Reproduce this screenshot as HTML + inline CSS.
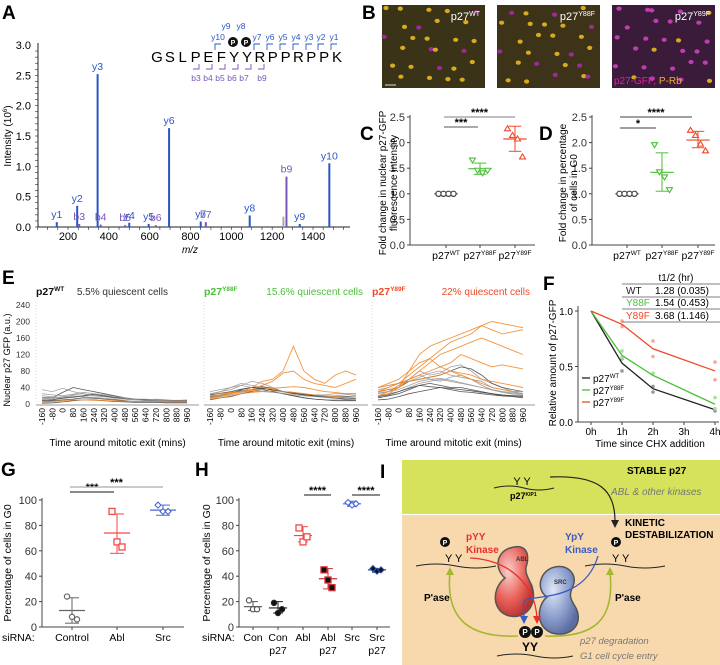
<!DOCTYPE html>
<html><head><meta charset="utf-8"><style>
html,body{margin:0;padding:0;background:#fff;}
svg{display:block;font-family:"Liberation Sans",Arial,sans-serif;}
</style></head><body>
<svg id="fig" width="720" height="665" viewBox="0 0 720 665" xmlns="http://www.w3.org/2000/svg">
<defs>
<radialGradient id="gAbl" cx="35%" cy="35%" r="70%"><stop offset="0" stop-color="#fbd0cc"/><stop offset="0.6" stop-color="#e8625a"/><stop offset="1" stop-color="#b83030"/></radialGradient>
<radialGradient id="gSrc" cx="35%" cy="35%" r="70%"><stop offset="0" stop-color="#dfe6f5"/><stop offset="0.6" stop-color="#8a9dcc"/><stop offset="1" stop-color="#5a6ca0"/></radialGradient>
</defs>
<g id="panelA"></g>
<g id="panelB"></g>
<g id="panelC"></g>
<g id="panelD"></g>
<g id="panelE"></g>
<g id="panelF"></g>
<g id="panelG"></g>
<g id="panelH"></g>
<g id="panelI">
 <rect x="402" y="460" width="318" height="54" fill="#d6e25c"/>
 <rect x="402" y="515" width="318" height="150" fill="#f8d9ad"/>
 <text x="380" y="478" font-size="19" font-weight="bold">I</text>
 <text x="627" y="474" font-size="10" font-weight="bold">STABLE p27</text>
 <text x="611" y="495" font-size="10" font-style="italic" fill="#777">ABL &amp; other kinases</text>
 <path d="M494,488 q15,-4 30,0 q15,4 30,0" fill="none" stroke="#222"/>
 <text x="522" y="485" font-size="11" text-anchor="middle">Y Y</text>
 <text x="510" y="499" font-size="9" font-weight="bold">p27<tspan font-size="5" dy="-3">KIP1</tspan></text>
 <path d="M550,477 C600,475 615,490 615,522" fill="none" stroke="#222" stroke-width="1.2"/>
 <path d="M611,520 l4,8 l4,-8z" fill="#222"/>
 <text x="625" y="526" font-size="10" font-weight="bold">KINETIC</text>
 <text x="625" y="538" font-size="10" font-weight="bold">DESTABILIZATION</text>
 <path d="M416,566 q20,-4 40,0 q20,4 40,0" fill="none" stroke="#222"/>
 <text x="445" y="562" font-size="11">Y Y</text>
 <circle cx="445" cy="542" r="5" fill="#111"/><text x="445" y="545" font-size="7" fill="#fff" text-anchor="middle" font-weight="bold">P</text>
 <path d="M585,566 q20,-4 40,0 q20,4 40,0" fill="none" stroke="#222"/>
 <text x="612" y="562" font-size="11">Y Y</text>
 <circle cx="616" cy="542" r="5" fill="#111"/><text x="616" y="545" font-size="7" fill="#fff" text-anchor="middle" font-weight="bold">P</text>
 <text x="466" y="540" font-size="10" font-weight="bold" fill="#e8302a">pYY</text>
 <text x="466" y="553" font-size="10" font-weight="bold" fill="#e8302a">Kinase</text>
 <text x="565" y="540" font-size="10" font-weight="bold" fill="#3a5bc0">YpY</text>
 <text x="565" y="553" font-size="10" font-weight="bold" fill="#3a5bc0">Kinase</text>
 <path d="M510,548 c-15,5 -15,22 -5,30 c-15,12 -12,35 5,38 c15,3 28,-10 22,-30 c-5,-10 -8,-15 -5,-22 c3,-15 -5,-20 -17,-16z" fill="url(#gAbl)" stroke="#555" stroke-width="1.5"/>
 <text x="516" y="561" font-size="6" font-weight="bold" fill="#333">ABL</text>
 <path d="M555,567 c-15,3 -20,22 -8,30 c-10,8 -12,30 5,36 c18,5 32,-8 24,-25 c-5,-8 -8,-12 -3,-22 c5,-12 -6,-22 -18,-19z" fill="url(#gSrc)" stroke="#555" stroke-width="1.5"/>
 <text x="554" y="584" font-size="6" font-weight="bold" fill="#333">SRC</text>
 <path d="M470,558 C510,560 535,585 537,618" fill="none" stroke="#e8302a" stroke-width="1.3"/>
 <path d="M533,616 l4,8 l4,-8z" fill="#e8302a"/>
 <path d="M598,556 C585,600 540,595 525,600 C522,605 524,612 524,618" fill="none" stroke="#3a5bc0" stroke-width="1.3"/>
 <path d="M520,616 l4,8 l4,-8z" fill="#3a5bc0"/>
 <path d="M518,636 C470,638 445,620 450,572" fill="none" stroke="#a5b832" stroke-width="1.6"/>
 <path d="M446,575 l4,-8 l4,8z" fill="#a5b832"/>
 <path d="M545,636 C595,638 615,620 610,572" fill="none" stroke="#a5b832" stroke-width="1.6"/>
 <path d="M606,575 l4,-8 l4,8z" fill="#a5b832"/>
 <text x="424" y="601" font-size="10" font-weight="bold">P'ase</text>
 <text x="615" y="601" font-size="10" font-weight="bold">P'ase</text>
 <circle cx="525" cy="632" r="6" fill="#111"/><text x="525" y="635" font-size="8" fill="#fff" text-anchor="middle" font-weight="bold">P</text>
 <circle cx="537" cy="632" r="6" fill="#111"/><text x="537" y="635" font-size="8" fill="#fff" text-anchor="middle" font-weight="bold">P</text>
 <text x="522" y="651" font-size="12" font-weight="bold">YY</text>
 <path d="M497,656 q20,-4 38,0 q20,4 38,0" fill="none" stroke="#222"/>
 <text x="580" y="644" font-size="9.5" font-style="italic" fill="#777">p27 degradation</text>
 <text x="580" y="659" font-size="9.5" font-style="italic" fill="#777">G1 cell cycle entry</text>
</g>
</svg>
<script>
// ===== Panel A data =====
const specMz = [145,245,255,345,360,480,500,595,630,695,850,875,1090,1255,1270,1335,1480];
const specInt = [0.08,0.35,0.05,2.52,0.04,0.03,0.07,0.05,0.03,1.63,0.09,0.08,0.19,0.17,0.83,0.05,1.05];
const specLab = ['y1','y2','b3','y3','b4','b5','y4','y5','b6','y6','y7','b7','y8','','b9','y9','y10'];
const specKind = ['y','y','b','y','b','b','y','y','b','y','y','b','y','g','b','y','y'];
const specXTicks = [200,400,600,800,1000,1200,1400];
const specYTicks = [0,0.5,1,1.5,2,2.5,3];
// ===== Panel C/D data =====
const cWT=[1,1,1,1], cY88=[1.65,1.45,1.4,1.45], cY89=[2.28,2.15,2.08,1.73];
const cMean=[1,1.49,2.07], cErrLo=[1,1.38,1.83], cErrHi=[1,1.6,2.32];
const dWT=[1,1,1,1], dY88=[1.95,1.42,1.32,1.07], dY89=[2.25,2.15,1.98,1.85];
const dMean=[1,1.42,2.05], dErrLo=[1,1.05,1.9], dErrHi=[1,1.8,2.22];
const cdTicks=[0,0.5,1,1.5,2,2.5];
// ===== Panel E data =====
const eTimes=[-160,-80,0,80,160,240,320,400,480,560,640,720,800,880,960];
const eTickLabels=[-160,-80,0,80,160,240,320,400,480,560,640,720,800,880,960];
const eYTicks=[0,40,80,120,160,200,240];
const eWTgray=[[35,30,38,30,25,20,18,15,12,10,10,8,8,8,10],[15,15,28,40,35,30,25,20,15,12,10,8,8,6,8],[10,12,15,22,25,20,18,15,12,10,8,8,6,6,6],[5,8,10,12,15,14,12,10,8,6,6,5,5,5,5],[20,18,15,18,20,22,20,15,12,10,10,12,10,8,8],[2,3,5,8,10,10,8,6,5,4,4,4,3,3,3],[12,14,18,20,18,16,14,12,12,10,9,9,8,7,7],[8,10,14,16,20,24,20,16,14,12,10,10,9,8,8],[25,22,20,24,28,25,22,18,15,12,12,10,9,9,9]];
const eWTorange=[[5,6,8,10,10,9,8,8,7,6,6,6,5,5,5]];
const e88gray=[[20,30,40,45,40,35,30,25,20,15,12,10,10,10,8],[15,20,25,35,40,42,38,30,25,22,20,18,15,15,12],[25,30,35,45,55,50,40,30,25,22,20,18,20,22,25],[10,15,18,25,30,35,30,25,20,15,12,10,8,8,8],[30,35,40,50,45,40,35,30,28,25,22,22,25,25,25],[18,22,28,32,35,38,34,30,28,24,20,16,14,12,12],[12,18,22,28,32,30,28,26,22,20,18,16,15,14,14],[22,26,30,36,40,38,34,30,26,22,20,20,18,18,20]];
const e88orange=[[15,20,25,30,40,55,60,80,140,80,60,50,70,80,70],[20,22,28,30,35,45,55,75,80,60,50,45,40,50,60],[25,25,28,30,32,35,38,40,42,40,35,30,28,25,25],[12,15,20,25,28,30,32,30,28,25,22,20,18,16,15]];
const e89gray=[[40,45,50,60,80,70,75,90,95,80,60,50,40,30,25],[30,35,40,55,60,65,70,80,90,85,70,50,40,35,30],[20,25,30,40,50,55,60,55,50,45,40,35,30,25,25],[15,20,25,35,45,50,45,40,40,35,30,25,20,20,18],[35,40,50,55,65,75,80,70,65,60,55,40,35,30,30],[10,12,18,25,30,35,40,35,30,28,25,22,20,18,15],[25,30,45,60,70,60,55,65,70,60,45,35,30,28,26],[18,22,30,38,45,42,40,38,35,32,28,25,22,20,20],[28,30,35,45,55,60,62,58,52,46,40,34,28,24,22]];
const e89orange=[[40,50,60,80,120,140,150,160,170,180,190,200,195,190,185],[30,40,50,70,90,110,130,150,160,170,190,180,170,175,180],[20,30,40,60,80,100,120,130,140,150,160,150,140,130,120],[30,35,40,60,70,80,90,100,120,110,100,90,95,90,85],[40,45,50,55,60,65,70,80,75,70,60,55,50,45,40],[20,25,40,80,100,110,90,80,70,60,50,40,35,30,30]];
// ===== Panel F data =====
const fHours=[0,1,2,4];
const fXTicks=['0h','1h','2h','3h','4h'];
const fWT=[1,0.53,0.30,0.11], fY88=[1,0.60,0.42,0.16], fY89=[1,0.88,0.66,0.46];
const fWTpts=[[1,0.46],[1,0.57],[2,0.27],[2,0.32],[4,0.10]];
const fY88pts=[[1,0.64],[1,0.58],[2,0.44],[4,0.22],[4,0.12]];
const fY89pts=[[1,0.91],[1,0.86],[2,0.73],[2,0.59],[4,0.54],[4,0.38]];
const fYTicks=[0,0.5,1.0];
// ===== Panel G/H data =====
const gCats=['Control','Abl','Src'];
const gVals=[[24,8,6],[91,67,63],[96,91,91]];
const gMean=[13,74,92], gLo=[3,58,88], gHi=[23,89,96];
const hCats=['Con','Con p27','Abl','Abl p27','Src','Src p27'];
const hVals=[[21,14,14],[19,11,14],[78,67,71],[45,37,31],[98,96,97],[46,44,45]];
const hMean=[16,15,72,38,97,45], hLo=[13,11,67,30,95,43], hHi=[20,20,79,46,99,46];
const ghTicks=[0,20,40,60,80,100];

const NS='http://www.w3.org/2000/svg';
function mk(parent,tag,attrs,txt){const e=document.createElementNS(NS,tag);for(const k in attrs)e.setAttribute(k,attrs[k]);if(txt!==undefined)e.textContent=txt;parent.appendChild(e);return e;}
function lin(d0,d1,r0,r1){return v=>r0+(v-d0)*(r1-r0)/(d1-d0);}

// ---------- Panel A ----------
(function(){
const g=document.getElementById('panelA');
const x=lin(200,1400,68,313), y=lin(0,3,227,45);
let t=mk(g,'text',{x:2,y:19,'font-size':19,'font-weight':'bold'},'A');

let ax=mk(g,'line',{x1:38,y1:227,x2:350,y2:227,stroke:'#222'});

let ay=mk(g,'line',{x1:38,y1:43,x2:38,y2:227,stroke:'#222'});

for(let v=0;v<=3;v+=0.1){mk(g,'line',{x1:35,x2:38,y1:y(v),y2:y(v),stroke:'#222','stroke-width':0.6});}
for(let v=50;v<=1550;v+=50){mk(g,'line',{x1:x(v),x2:x(v),y1:227,y2:230,stroke:'#222','stroke-width':0.6});}
specYTicks.forEach(v=>{const e=mk(g,'text',{x:31,y:y(v)+4,'font-size':11,'text-anchor':'end'},v.toFixed(1));});
specXTicks.forEach(v=>{const e=mk(g,'text',{x:x(v),y:240,'font-size':11,'text-anchor':'middle'},String(v));});
let mz=mk(g,'text',{x:190,y:253,'font-size':10,'font-style':'italic','text-anchor':'middle'},'m/z');

let yt=mk(g,'text',{x:11,y:136,'font-size':10,'text-anchor':'middle',transform:'rotate(-90 11 136)'});
yt.innerHTML='Intensity (10<tspan font-size="6" dy="-4">6</tspan><tspan dy="4">)</tspan>';

const col={y:'#2a56c6',b:'#7a55b8',g:'#aaa'};
specMz.forEach((m,i)=>{
 const b=mk(g,'line',{x1:x(m),x2:x(m),y1:227,y2:y(specInt[i]),stroke:col[specKind[i]],'stroke-width':2});
 
 if(specLab[i]){const l=mk(g,'text',{x:x(m),y:y(specInt[i])-4,'font-size':10.5,'text-anchor':'middle',fill:col[specKind[i]]},specLab[i]);
 }
});
const seq='GSLPEFYYRPPRPPK'.split('');
seq.forEach((c,i)=>{const e=mk(g,'text',{x:157+i*12.86,y:62,'font-size':15,'text-anchor':'middle'},c);});
const yl=['y10','y9','y8','y7','y6','y5','y4','y3','y2','y1'];
[215,0,0,254,267,280,293,306,318,331].forEach((xx,i)=>{ if(!xx)return;
 mk(g,'path',{d:`M${xx},50 v-6 h6`,fill:'none',stroke:'#2a56c6','stroke-width':0.9});
 const e=mk(g,'text',{x:xx+3,y:40,'font-size':8.5,fill:'#2a56c6','text-anchor':'middle'},yl[i]);});
mk(g,'text',{x:226,y:29,'font-size':8.5,fill:'#2a56c6','text-anchor':'middle'},'y9');
mk(g,'text',{x:241,y:29,'font-size':8.5,fill:'#2a56c6','text-anchor':'middle'},'y8');
[233,246].forEach(xx=>{mk(g,'circle',{cx:xx,cy:42,r:5,fill:'#111'});mk(g,'text',{x:xx,y:45,'font-size':7,fill:'#fff','text-anchor':'middle','font-weight':'bold'},'P');});
const bl=['b3','b4','b5','b6','b7','b9'];
[199,212,225,238,251,264].forEach((xx,i)=>{
 mk(g,'path',{d:`M${xx},64 v5 h-6`,fill:'none',stroke:'#7a55b8','stroke-width':0.9});
 const e=mk(g,'text',{x:196+i*12+(i==5?6:0),y:81,'font-size':8.5,fill:'#7a55b8','text-anchor':'middle'},bl[i]);});
})();

// ---------- Panel B ----------
(function(){
const g=document.getElementById('panelB');
let t=mk(g,'text',{x:362,y:19,'font-size':19,'font-weight':'bold'},'B');
const imgs=[{x:382,bg:'#3a3318',name:'image-wt',lab:'WT',yel:0.8},{x:497,bg:'#3d3318',name:'image-y88f',lab:'Y88F',yel:0.65},{x:612,bg:'#3a1c3a',name:'image-y89f',lab:'Y89F',yel:0.12}];
imgs.forEach((im,k)=>{
 const r=mk(g,'rect',{x:im.x,y:5,width:103,height:83,fill:im.bg});
 let n=0;
 for(let row=0;row<6;row++)for(let c=0;c<8;c++){
  n++;
  if(((n*13+k*5)%9)<4)continue;
  const jx=((n*37+k*11)%17)-8, jy=((n*53+k*7)%13)-6;
  const cx=im.x+7+c*12.5+jx*0.6, cy=11+row*13.5+jy*0.6;
  if(cx>im.x+101||cy>86)continue;
  const yel=((n*7+k*3)%20)/20<im.yel;
  mk(g,'ellipse',{cx:cx,cy:cy,rx:2.6,ry:2.1,fill:yel?'#e8b81e':(k==2?'#d040c0':'#a828a8'),opacity:0.9});}
 const l=mk(g,'text',{x:im.x+98,y:20,'font-size':11,fill:'#fff','text-anchor':'end'});
 l.innerHTML='p27<tspan font-size="7" dy="-4">'+im.lab+'</tspan>';
});
mk(g,'line',{x1:385,x2:396,y1:85,y2:85,stroke:'#ddd','stroke-width':1});
const lg=mk(g,'text',{x:614,y:84,'font-size':10});lg.innerHTML='<tspan fill="#e020a0">p27-GFP,</tspan><tspan fill="#f0b030"> P-Rb</tspan>';

})();

// ---------- scatter helper ----------
function scatterPanel(g,cfg){
 const y=lin(cfg.d0,cfg.d1,cfg.py0,cfg.py1);
 let ay=mk(g,'line',{x1:cfg.ax,x2:cfg.ax,y1:cfg.py1-2,y2:cfg.py0,stroke:'#444'});
 let ax=mk(g,'line',{x1:cfg.ax,x2:cfg.axEnd,y1:cfg.py0,y2:cfg.py0,stroke:'#444'});
 cfg.ticks.forEach(v=>{mk(g,'line',{x1:cfg.ax-3,x2:cfg.ax,y1:y(v),y2:y(v),stroke:'#444'});
  const e=mk(g,'text',{x:cfg.ax-5,y:y(v)+4,'font-size':11,'text-anchor':'end',fill:'#333'},cfg.fmt(v));});
 cfg.cx.forEach(c=>mk(g,'line',{x1:c,x2:c,y1:cfg.py0,y2:cfg.py0+3,stroke:'#444'}));
 cfg.vals.forEach((arr,i)=>{
  const c=cfg.cx[i], col=cfg.colors[i];
  const hw=cfg.hw||9;
  const m=mk(g,'line',{x1:c-hw*1.3,x2:c+hw*1.3,y1:y(cfg.mean[i]),y2:y(cfg.mean[i]),stroke:col,'stroke-width':1.2});
  if(cfg.hi[i]!==cfg.lo[i]){
   const eb=mk(g,'line',{x1:c,x2:c,y1:y(cfg.lo[i]),y2:y(cfg.hi[i]),stroke:col,'stroke-width':1});
   mk(g,'line',{x1:c-hw*0.7,x2:c+hw*0.7,y1:y(cfg.lo[i]),y2:y(cfg.lo[i]),stroke:col});
   mk(g,'line',{x1:c-hw*0.7,x2:c+hw*0.7,y1:y(cfg.hi[i]),y2:y(cfg.hi[i]),stroke:col});}
  const n=arr.length;
  arr.forEach((v,j)=>{const px=c+(j-(n-1)/2)*(cfg.jit||5), py=y(v);let e;
   const sh=cfg.shapes[i], fill=cfg.fills?cfg.fills[i]:'#fff';
   if(sh==='o') e=mk(g,'circle',{cx:px,cy:py,r:2.6,fill:fill,stroke:col,'stroke-width':1.2});
   else if(sh==='v') e=mk(g,'path',{d:`M${px-3},${py-2.5} h6 l-3,5z`,fill:'#fff',stroke:col,'stroke-width':1.1});
   else if(sh==='^') e=mk(g,'path',{d:`M${px-3},${py+2.5} h6 l-3,-5z`,fill:'#fff',stroke:col,'stroke-width':1.1});
   else if(sh==='s') e=mk(g,'rect',{x:px-3,y:py-3,width:6,height:6,fill:fill,stroke:col,'stroke-width':1.3});
   else e=mk(g,'path',{d:`M${px},${py-3} l3,3 l-3,3 l-3,-3z`,fill:fill,stroke:col,'stroke-width':1.1});
   });
 });
 cfg.sig.forEach(s=>{const l=mk(g,'line',{x1:s[0],x2:s[1],y1:s[2],y2:s[2],stroke:s[4]||'#444','stroke-width':1.3});
  const t=mk(g,'text',{x:(s[0]+s[1])/2,y:s[2]-1,'font-size':11,'text-anchor':'middle','font-weight':'bold'},s[3]);});
 return y;
}
function supLabels(g,xs,labs,colY){labs.forEach((l,i)=>{const e=mk(g,'text',{x:xs[i],y:colY,'font-size':10.5,'text-anchor':'middle'});e.innerHTML='p27<tspan font-size="6.5" dy="-4">'+l+'</tspan>';});}

// ---------- Panel C ----------
(function(){
const g=document.getElementById('panelC');
let t=mk(g,'text',{x:360,y:140,'font-size':19,'font-weight':'bold'},'C');
const cx=[446,480,515];
scatterPanel(g,{d0:0,d1:2.5,py0:245,py1:117,ax:410,axEnd:535,ticks:cdTicks,fmt:v=>v.toFixed(1),cx:cx,vals:[cWT,cY88,cY89],mean:cMean,lo:cErrLo,hi:cErrHi,colors:['#444','#4cbf3a','#f04a2a'],shapes:['o','v','^'],sig:[[444,515,117,'****','#999'],[444,478,127,'***','#777']],jit:5});
supLabels(g,cx,['WT','Y88F','Y89F'],259);
const yt=mk(g,'text',{'font-size':10,'text-anchor':'middle',transform:'translate(386 183) rotate(-90)'});
yt.innerHTML='<tspan x="0" y="0">Fold change in nuclear p27-GFP</tspan><tspan x="0" y="11">fluorescence intensity</tspan>';

})();
// ---------- Panel D ----------
(function(){
const g=document.getElementById('panelD');
let t=mk(g,'text',{x:539,y:140,'font-size':19,'font-weight':'bold'},'D');
const cx=[627,662,698];
scatterPanel(g,{d0:0,d1:2.5,py0:245,py1:117,ax:592,axEnd:715,ticks:cdTicks,fmt:v=>v.toFixed(1),cx:cx,vals:[dWT,dY88,dY89],mean:dMean,lo:dErrLo,hi:dErrHi,colors:['#444','#4cbf3a','#f04a2a'],shapes:['o','v','^'],sig:[[620,692,117,'****','#666'],[620,656,128,'*','#666']],jit:5});
supLabels(g,cx,['WT','Y88F','Y89F'],259);
const yt=mk(g,'text',{'font-size':10,'text-anchor':'middle',transform:'translate(566 183) rotate(-90)'});
yt.innerHTML='<tspan x="0" y="0">Fold change in percentage</tspan><tspan x="0" y="11">of cells in G0</tspan>';

})();

// ---------- Panel E ----------
(function(){
const g=document.getElementById('panelE');
let t=mk(g,'text',{x:2,y:284,'font-size':19,'font-weight':'bold'},'E');
const y=lin(0,240,404,305);
eYTicks.forEach(v=>{const e=mk(g,'text',{x:30,y:y(v)+3,'font-size':8.5,'text-anchor':'end',fill:'#333'},String(v));});
const yt=mk(g,'text',{x:0,y:0,'font-size':9,'text-anchor':'middle',transform:'translate(10 360) rotate(-90)'},'Nuclear p27 GFP (a.u.)');

const subs=[{l:36,r:199,gray:eWTgray,or:eWTorange,name:'wt',lab:'WT',labc:'#111',q:'5.5% quiescent cells',qx:168,qc:'#333'},
 {l:204,r:368,gray:e88gray,or:e88orange,name:'y88f',lab:'Y88F',labc:'#4cbf3a',q:'15.6% quiescent cells',qx:363,qc:'#4cbf3a'},
 {l:372,r:535,gray:e89gray,or:e89orange,name:'y89f',lab:'Y89F',labc:'#f04a2a',q:'22% quiescent cells',qx:530,qc:'#f04a2a'}];
subs.forEach(s=>{
 const x=lin(-160,960,s.l+6,s.r-12);
 const bx=mk(g,'line',{x1:s.l,x2:s.r,y1:405,y2:405,stroke:'#999'});
 mk(g,'line',{x1:s.l,x2:s.l,y1:302,y2:405,stroke:'#ddd','stroke-dasharray':'1,2'});
 const h=mk(g,'text',{x:s.l,y:295,'font-size':10.5,'font-weight':'bold',fill:s.labc});h.innerHTML='p27<tspan font-size="6.5" dy="-4">'+s.lab+'</tspan>';
 const q=mk(g,'text',{x:s.qx,y:295,'font-size':10,'text-anchor':'end',fill:s.qc},s.q);
 const draw=(tr,col,w)=>{const d=tr.map((v,i)=>(i?'L':'M')+x(eTimes[i]).toFixed(1)+','+y(v).toFixed(1)).join(' ');
  const p=mk(g,'path',{d:d,fill:'none',stroke:col,'stroke-width':w,opacity:0.9});};
 s.gray.forEach((tr,i)=>draw(tr,i%2?'#444':'#999',0.8));
 s.or.forEach(tr=>draw(tr,'#f28a2a',0.9));
 eTickLabels.forEach(v=>{const xx=x(v);const e=mk(g,'text',{x:0,y:0,'font-size':8.5,'text-anchor':'end',transform:`translate(${xx+3} 408) rotate(-90)`},String(v));});
 const xt=mk(g,'text',{x:(s.l+s.r)/2,y:446,'font-size':10,'text-anchor':'middle'},'Time around mitotic exit (mins)');
});
})();

// ---------- Panel F ----------
(function(){
const g=document.getElementById('panelF');
let t=mk(g,'text',{x:543,y:290,'font-size':19,'font-weight':'bold'},'F');
const x=lin(0,4,591,715), y=lin(0,1,422,311);
let ay=mk(g,'line',{x1:578,x2:578,y1:306,y2:422,stroke:'#444'});
let ax=mk(g,'line',{x1:578,x2:719,y1:422,y2:422,stroke:'#444'});
fYTicks.forEach(v=>{mk(g,'line',{x1:575,x2:578,y1:y(v),y2:y(v),stroke:'#444'});const e=mk(g,'text',{x:573,y:y(v)+4,'font-size':10,'text-anchor':'end'},v.toFixed(1));});
fXTicks.forEach((l,i)=>{mk(g,'line',{x1:x(i),x2:x(i),y1:422,y2:425,stroke:'#444'});const e=mk(g,'text',{x:x(i),y:435,'font-size':10,'text-anchor':'middle'},l);});
const xt=mk(g,'text',{x:650,y:447,'font-size':10,'text-anchor':'middle'},'Time since CHX addition');
const yt=mk(g,'text',{x:0,y:0,'font-size':10,'text-anchor':'middle',transform:'translate(556 363) rotate(-90)'},'Relative amount of p27-GFP');
const series=[{d:fWT,p:fWTpts,c:'#222',pc:'#999',n:'wt'},{d:fY88,p:fY88pts,c:'#4cbf3a',pc:'#a6e09a',n:'y88f'},{d:fY89,p:fY89pts,c:'#f04a2a',pc:'#f7a898',n:'y89f'}];
series.forEach(s=>{s.p.forEach(pt=>{const c=mk(g,'circle',{cx:x(pt[0]),cy:y(pt[1]),r:1.8,fill:s.pc});});
 const d=s.d.map((v,i)=>(i?'L':'M')+x(fHours[i])+','+y(v)).join(' ');
 const p=mk(g,'path',{d:d,fill:'none',stroke:s.c,'stroke-width':1.3});});
const leg=[['WT','#222',378],['Y88F','#4cbf3a',390],['Y89F','#f04a2a',402]];
leg.forEach(l=>{mk(g,'line',{x1:582,x2:590,y1:l[2],y2:l[2],stroke:l[1],'stroke-width':1.3});const e=mk(g,'text',{x:593,y:l[2]+4,'font-size':10});e.innerHTML='p27<tspan font-size="6" dy="-4">'+l[0]+'</tspan>';});
const tb=mk(g,'text',{x:676,y:281,'font-size':10,'text-anchor':'middle'},'t1/2 (hr)');
[284,297,309,322].forEach(yy=>mk(g,'line',{x1:622,x2:720,y1:yy,y2:yy,stroke:'#555','stroke-width':0.8}));
[['WT','1.28 (0.035)','#222',294],['Y88F','1.54 (0.453)','#4cbf3a',306],['Y89F','3.68 (1.146)','#f04a2a',319]].forEach(r=>{
 const a=mk(g,'text',{x:626,y:r[3],'font-size':10,fill:r[2]},r[0]);
 const b=mk(g,'text',{x:655,y:r[3],'font-size':10},r[1]);});
})();

// ---------- Panel G ----------
(function(){
const g=document.getElementById('panelG');
let t=mk(g,'text',{x:1,y:476,'font-size':19,'font-weight':'bold'},'G');
const cx=[72,117,163];
scatterPanel(g,{d0:0,d1:100,py0:627,py1:500,ax:42,axEnd:184,ticks:ghTicks,fmt:v=>String(v),cx:cx,vals:gVals,mean:gMean,lo:gLo,hi:gHi,colors:['#666','#f04a4a','#4a6ad0'],shapes:['o','s','d'],sig:[[70,114,492,'***','#444'],[70,163,487,'***','#aaa']],jit:5,hw:10});
const yt=mk(g,'text',{x:0,y:0,'font-size':10.5,'text-anchor':'middle',transform:'translate(11 563) rotate(-90)'},'Percentage of cells in G0');
let s=mk(g,'text',{x:2,y:641,'font-size':10.5},'siRNA:');
gCats.forEach((c,i)=>{const e=mk(g,'text',{x:cx[i],y:641,'font-size':10.5,'text-anchor':'middle'},c);});
})();
// ---------- Panel H ----------
(function(){
const g=document.getElementById('panelH');
let t=mk(g,'text',{x:195,y:476,'font-size':19,'font-weight':'bold'},'H');
const cx=[253,278,303,328,352,377];
scatterPanel(g,{d0:0,d1:100,py0:627,py1:500,ax:239,axEnd:390,ticks:ghTicks,fmt:v=>String(v),cx:cx,vals:hVals,mean:hMean,lo:hLo,hi:hHi,colors:['#555','#222','#f04a4a','#d03030','#4a6ad0','#2a4aa0'],shapes:['o','o','s','s','d','d'],fills:['#fff','#111','#fff','#111','#fff','#111'],sig:[[304,331,495,'****','#444'],[352,380,495,'****','#444']],jit:4,hw:7});
const yt=mk(g,'text',{x:0,y:0,'font-size':10.5,'text-anchor':'middle',transform:'translate(210 563) rotate(-90)'},'Percentage of cells in G0');
let s=mk(g,'text',{x:202,y:641,'font-size':10.5},'siRNA:');
hCats.forEach((c,i)=>{const parts=c.split(' ');const e=mk(g,'text',{x:cx[i],y:641,'font-size':10.5,'text-anchor':'middle'},parts[0]);
 if(parts[1]){const e2=mk(g,'text',{x:cx[i],y:654,'font-size':10.5,'text-anchor':'middle'},parts[1]);}});
})();
</script>
</body></html>
